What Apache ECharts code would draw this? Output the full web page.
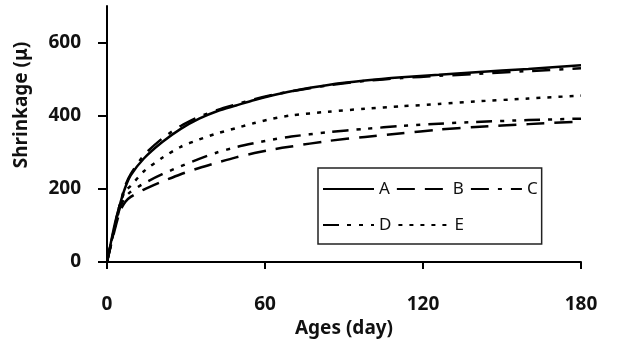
<!DOCTYPE html>
<html>
<head>
<meta charset="utf-8">
<script src="https://cdn.jsdelivr.net/npm/echarts@6/dist/echarts.min.js"></script>
<style>
  html, body { margin: 0; padding: 0; background: #fff; }
  #chart { width: 617px; height: 352px; }
</style>
</head>
<body>
<div id="chart"></div>
<script>
// ages in days
const days = [0, 3, 5, 7, 9, 14, 21, 28, 35, 42, 49, 56, 63, 70, 84, 98, 112, 126, 140, 160, 180];

// shrinkage values per mix
const shrinkA = [0, 105, 160, 205, 237, 283, 328, 364, 392, 413, 428, 443, 456, 467, 484, 496, 505, 512, 519, 528, 538];
const shrinkB = [0, 90, 140, 165, 178, 198, 220, 240, 257, 272, 286, 298, 308, 316, 331, 342, 352, 362, 369, 377, 384];
const shrinkC = [0, 100, 160, 210, 240, 292, 338, 372, 397, 416, 431, 445, 457, 467, 483, 495, 503, 509, 514, 522, 530];
const shrinkD = [0, 95, 150, 178, 192, 215, 240, 262, 282, 300, 314, 325, 335, 343, 355, 364, 372, 378, 383, 388, 392];
const shrinkE = [0, 100, 160, 195, 208, 248, 285, 315, 335, 352, 366, 380, 392, 401, 411, 419, 426, 432, 439, 447, 455];

const seriesNames = ['A', 'B', 'C', 'D', 'E'];
const xTicks = [0, 60, 120, 180];
const yTicks = [0, 200, 400, 600];

const FONT = '"Noto Sans", "DejaVu Sans", sans-serif';

// dash pattern for each line
const dashes = {
  A: 'solid',
  B: [18, 10],
  C: [18, 9, 4, 9],
  D: [16, 8, 4, 8, 4, 8],
  E: [4, 7]
};

const values = { A: shrinkA, B: shrinkB, C: shrinkC, D: shrinkD, E: shrinkE };

const chart = echarts.init(document.getElementById('chart'), null, { renderer: 'canvas' });

chart.setOption({
  animation: false,
  backgroundColor: '#fff',
  grid: { left: 107, right: 36, top: 6, bottom: 90 },
  legend: {
    data: seriesNames,
    left: 318,
    top: 168,
    width: 222,
    padding: [6, 4, 4, 4],
    itemGap: 6,
    itemWidth: 51,
    itemHeight: 14,
    itemStyle: { opacity: 0 },
    borderColor: '#222',
    borderWidth: 1.5,
    textStyle: { fontFamily: FONT, fontSize: 17, color: '#111', lineHeight: 30 }
  },
  xAxis: {
    type: 'value',
    min: 0,
    max: 180,
    interval: 60,
    name: 'Ages (day)',
    nameLocation: 'middle',
    nameGap: 43,
    nameTextStyle: { fontFamily: FONT, fontSize: 19, fontWeight: 'bold', color: '#111' },
    axisLine: { lineStyle: { color: '#000', width: 2 } },
    axisTick: { show: true, length: 7, lineStyle: { color: '#000', width: 2 }, customValues: xTicks },
    axisLabel: { customValues: xTicks, margin: 33, fontFamily: FONT, fontSize: 19, fontWeight: 'bold', color: '#111' },
    splitLine: { show: false }
  },
  yAxis: {
    type: 'value',
    min: 0,
    max: 700,
    axisLine: { show: true, lineStyle: { color: '#000', width: 2 } },
    axisTick: { show: true, length: 9, lineStyle: { color: '#000', width: 2 }, customValues: yTicks },
    axisLabel: { customValues: yTicks, margin: 26, fontFamily: FONT, fontSize: 19, fontWeight: 'bold', color: '#111' },
    splitLine: { show: false }
  },
  graphic: [{
    type: 'text',
    x: 22,
    y: 105,
    rotation: Math.PI / 2,
    style: {
      text: 'Shrinkage (μ)',
      fill: '#111',
      font: 'bold 19px ' + FONT,
      align: 'center',
      verticalAlign: 'middle'
    }
  }],
  series: seriesNames.map(name => ({
    name: name,
    type: 'line',
    data: days.map((d, i) => [d, values[name][i]]),
    symbol: 'none',
    smooth: 0.25,
    color: '#000',
    lineStyle: { color: '#000', width: 2.5, type: dashes[name] }
  }))
});
</script>
</body>
</html>
